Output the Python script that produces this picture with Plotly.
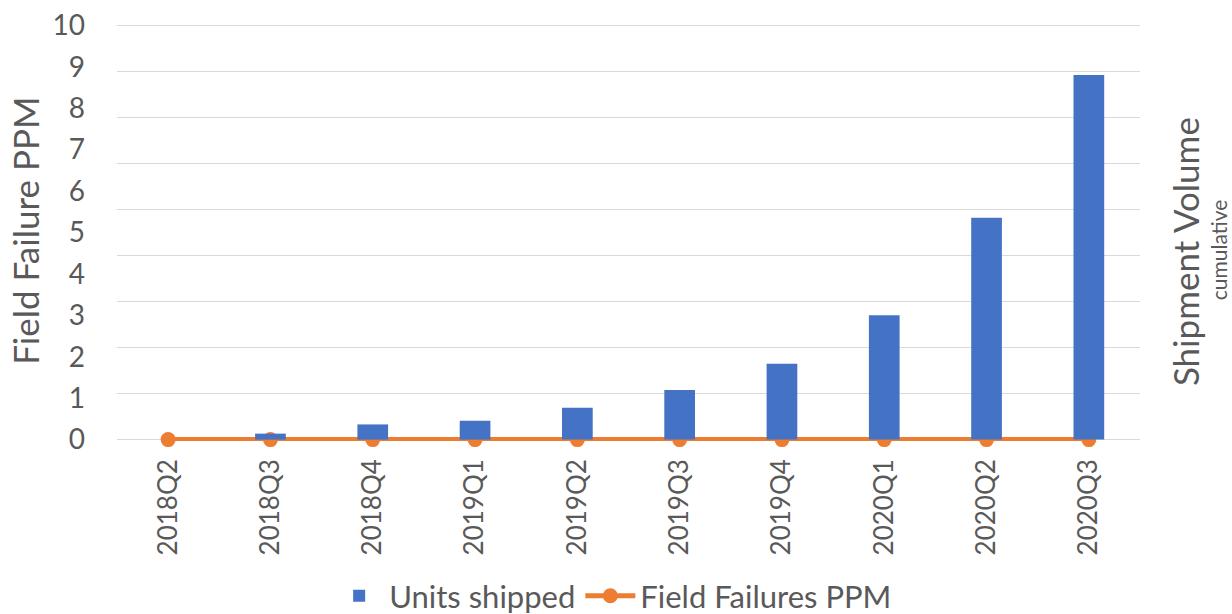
import plotly.graph_objects as go

quarters = ["2018Q2", "2018Q3", "2018Q4", "2019Q1", "2019Q2", "2019Q3",
            "2019Q4", "2020Q1", "2020Q2", "2020Q3"]
units_shipped = [0.0, 0.13, 0.33, 0.41, 0.69, 1.08, 1.65, 2.70, 4.82, 7.92]
field_failures_ppm = [0, 0, 0, 0, 0, 0, 0, 0, 0, 0]
left_ticks = list(range(0, 11))

FONT = "Lato, 'Open Sans', sans-serif"
GRAY = "#595959"

fig = go.Figure()
fig.add_trace(go.Bar(
    x=quarters, y=units_shipped, name="Units shipped",
    marker=dict(color="#4472C4", line=dict(width=0)),
    width=0.3, yaxis="y2",
))
fig.add_trace(go.Scatter(
    x=quarters, y=field_failures_ppm, name="Field Failures PPM",
    mode="lines+markers",
    line=dict(color="#ED7D31", width=5),
    marker=dict(color="#ED7D31", size=15),
    yaxis="y", cliponaxis=False,
))

fig.update_layout(
    width=1232, height=614,
    margin=dict(l=117, r=92, t=24, b=173, autoexpand=False),
    paper_bgcolor="white", plot_bgcolor="white",
    font=dict(family=FONT, color=GRAY),
    showlegend=True,
    legend=dict(orientation="h", x=0.485, xanchor="center", y=-0.372, yanchor="middle",
                font=dict(size=31, color=GRAY), traceorder="normal",
                itemwidth=50),
    xaxis=dict(
        type="category", tickangle=-90, tickfont=dict(size=26, color=GRAY),
        showgrid=False, showline=False, ticks="", ticklabelstandoff=12,
        range=[-0.5, 9.5], automargin=False,
    ),
    yaxis=dict(
        range=[-0.0333, 10.0333], tickvals=left_ticks, ticktext=[str(v) for v in left_ticks],
        tickfont=dict(size=28, color=GRAY), showgrid=False, zeroline=False,
        showline=False, ticks="", ticklabelstandoff=31, automargin=False,
        ticklabeloverflow="allow",
    ),
    yaxis2=dict(
        range=[-0.03, 9.03], dtick=1, tick0=0, overlaying="y", side="right",
        showticklabels=False, showgrid=True, gridcolor="#D9D9D9", gridwidth=1.3,
        zeroline=False, showline=False, ticks="", automargin=False,
    ),
    annotations=[
        dict(text="Field Failure PPM", xref="paper", yref="paper", x=-0.0899, y=0.504,
             xanchor="center", yanchor="middle", textangle=-90, showarrow=False,
             font=dict(size=35, color=GRAY, family=FONT)),
        dict(text="Shipment Volume", xref="paper", yref="paper", x=1.044, y=0.453,
             xanchor="center", yanchor="middle", textangle=-90, showarrow=False,
             font=dict(size=35, color=GRAY, family=FONT)),
        dict(text="cumulative", xref="paper", yref="paper", x=1.0765, y=0.458,
             xanchor="center", yanchor="middle", textangle=-90, showarrow=False,
             font=dict(size=21, color=GRAY, family=FONT)),
    ],
)

fig.write_html(
    "out.html",
    config={"displayModeBar": False},
    post_script="document.body.style.margin='0';document.body.style.overflow='hidden';",
)
